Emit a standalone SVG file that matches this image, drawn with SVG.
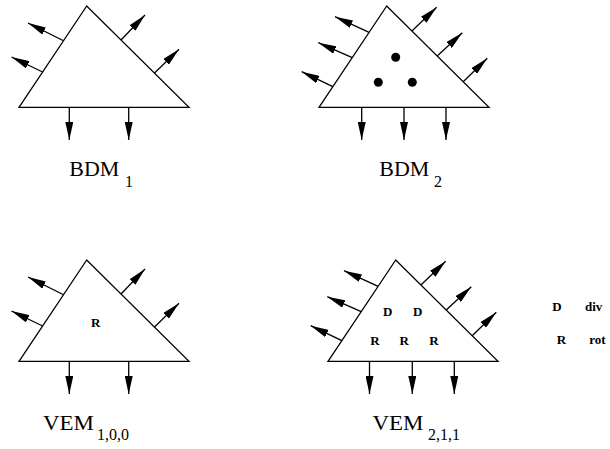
<svg xmlns="http://www.w3.org/2000/svg" width="610" height="449" viewBox="0 0 610 449">
<defs>
<marker id="ah" markerUnits="userSpaceOnUse" markerWidth="18" markerHeight="8" refX="18" refY="4" orient="auto">
<path d="M0,0 L18,4 L0,8 z" fill="#000"/>
</marker>
</defs>
<style>
.tri{fill:#fff;stroke:#000;stroke-width:1.3;stroke-linejoin:miter}
.ar{stroke:#000;stroke-width:1.3;fill:none;marker-end:url(#ah)}
.lbl{font-family:"Liberation Serif",serif;font-size:20.5px;fill:#000}
.sub{font-family:"Liberation Serif",serif;font-size:16px;fill:#000}
.b{font-family:"Liberation Serif",serif;font-size:13px;font-weight:bold;fill:#000}
</style>
<rect width="610" height="449" fill="#fff"/>

<g id="BDM1">
<polygon class="tri" points="86.7,6 19,107.3 189,107.3"/>
<text class="lbl" x="69.3" y="175.5" textLength="50" lengthAdjust="spacingAndGlyphs">BDM</text>
<text class="sub" x="125" y="187">1</text>
</g>
<g id="BDM2" transform="translate(300,0)">
<polygon class="tri" points="86.7,6 19,107.3 189,107.3"/>
<circle cx="95.7" cy="57.3" r="4.5"/>
<circle cx="78.3" cy="82.3" r="4.5"/>
<circle cx="112.3" cy="82.3" r="4.5"/>
<text class="lbl" x="79.3" y="175.5" textLength="50" lengthAdjust="spacingAndGlyphs">BDM</text>
<text class="sub" x="134" y="187">2</text>
</g>
<g id="VEM100" transform="translate(0,254)">
<polygon class="tri" points="86.7,6 19,107.3 189,107.3"/>
<text class="b" x="95.7" y="73.3" text-anchor="middle">R</text>
<text class="lbl" x="43" y="176" textLength="51" lengthAdjust="spacingAndGlyphs">VEM</text>
<text class="sub" x="97" y="186">1,0,0</text>
</g>
<g id="VEM211" transform="translate(309,254)">
<polygon class="tri" points="86.7,6 19,107.3 189,107.3"/>
<text class="b" x="78.7" y="62" text-anchor="middle">D</text>
<text class="b" x="108.7" y="62" text-anchor="middle">D</text>
<text class="b" x="66" y="90.7" text-anchor="middle">R</text>
<text class="b" x="95.3" y="90.7" text-anchor="middle">R</text>
<text class="b" x="125" y="90.7" text-anchor="middle">R</text>
<text class="lbl" x="63.5" y="176" textLength="51" lengthAdjust="spacingAndGlyphs">VEM</text>
<text class="sub" x="119" y="186">2,1,1</text>
</g>
<g id="legend">
<text class="b" x="552.3" y="310.7">D</text>
<text class="b" x="585" y="310.7">div</text>
<text class="b" x="556.7" y="344.3">R</text>
<text class="b" x="589.3" y="344.3">rot</text>
</g>

<g id="connectors">
<g id="c-bdm1">
<line class="ar" x1="63" y1="40.5" x2="28" y2="23"/>
<line class="ar" x1="42.6" y1="72" x2="11.5" y2="57"/>
<line class="ar" x1="121" y1="40" x2="145" y2="15"/>
<line class="ar" x1="154.5" y1="73" x2="179" y2="49.3"/>
<line class="ar" x1="69.3" y1="107.3" x2="69.3" y2="140"/>
<line class="ar" x1="128.7" y1="107.3" x2="128.7" y2="140"/>
</g>
<g id="c-vem100" transform="translate(0,254)">
<line class="ar" x1="63" y1="40.5" x2="28" y2="23"/>
<line class="ar" x1="42.6" y1="72" x2="11.5" y2="57"/>
<line class="ar" x1="121" y1="40" x2="145" y2="15"/>
<line class="ar" x1="154.5" y1="73" x2="179" y2="49.3"/>
<line class="ar" x1="69.3" y1="107.3" x2="69.3" y2="140"/>
<line class="ar" x1="128.7" y1="107.3" x2="128.7" y2="140"/>
</g>
<g id="c-bdm2" transform="translate(300,0)">
<line class="ar" x1="69.1" y1="32.3" x2="35" y2="16.7"/>
<line class="ar" x1="52.2" y1="57.7" x2="18.3" y2="42.7"/>
<line class="ar" x1="32.8" y1="86.7" x2="1.7" y2="71.7"/>
<line class="ar" x1="111.9" y1="31" x2="136.7" y2="7.3"/>
<line class="ar" x1="137.2" y1="56" x2="162.3" y2="32.7"/>
<line class="ar" x1="163.2" y1="81.7" x2="187.3" y2="58.3"/>
<line class="ar" x1="61.7" y1="107.3" x2="61.7" y2="140"/>
<line class="ar" x1="104" y1="107.3" x2="104" y2="140"/>
<line class="ar" x1="146" y1="107.3" x2="146" y2="140"/>
</g>
<g id="c-vem211" transform="translate(309,254)">
<line class="ar" x1="69.1" y1="32.3" x2="35" y2="16.7"/>
<line class="ar" x1="52.2" y1="57.7" x2="18.3" y2="42.7"/>
<line class="ar" x1="32.8" y1="86.7" x2="1.7" y2="71.7"/>
<line class="ar" x1="111.9" y1="31" x2="136.7" y2="7.3"/>
<line class="ar" x1="137.2" y1="56" x2="162.3" y2="32.7"/>
<line class="ar" x1="163.2" y1="81.7" x2="187.3" y2="58.3"/>
<line class="ar" x1="60.5" y1="107.3" x2="60.5" y2="140"/>
<line class="ar" x1="103.3" y1="107.3" x2="103.3" y2="140"/>
<line class="ar" x1="145.3" y1="107.3" x2="145.3" y2="140"/>
</g>
</g>
</svg>
